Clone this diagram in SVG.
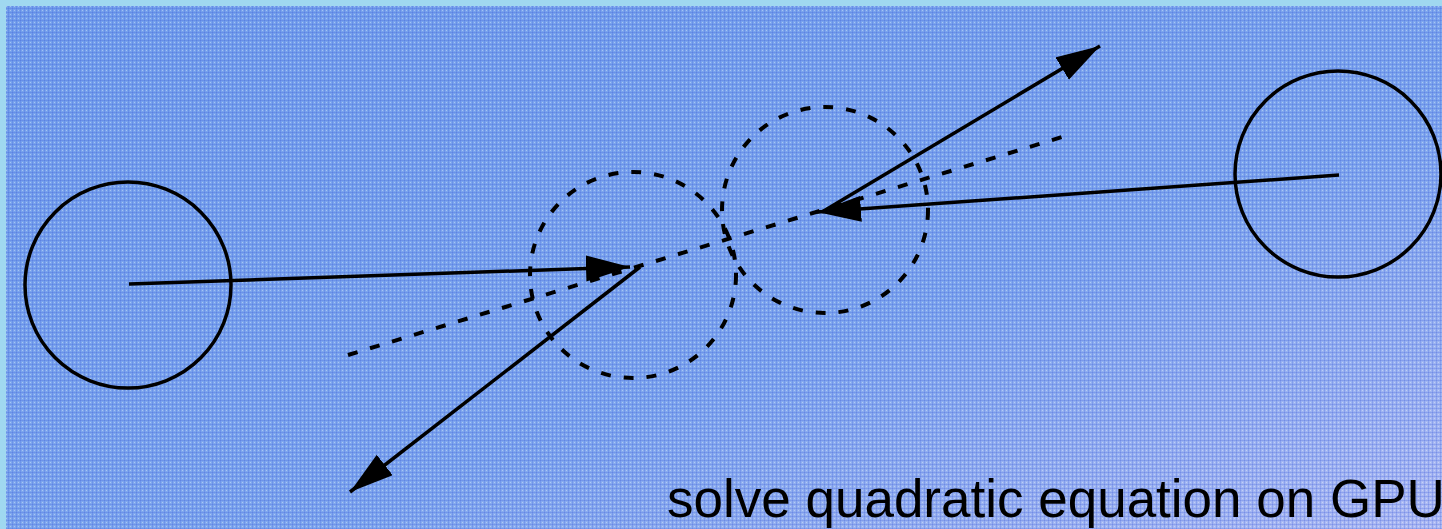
<svg xmlns="http://www.w3.org/2000/svg" width="1442" height="529" viewBox="0 0 1442 529">
<style>
.solid{fill:none;stroke:#000;stroke-width:3.5}
.dash{fill:none;stroke:#000;stroke-width:4;stroke-dasharray:10 13}
.arrow{fill:none;stroke:#000;stroke-width:3.5;marker-end:url(#head)}
.label{font-family:"Liberation Sans",Arial,sans-serif;font-size:53px;fill:#000}
</style>
<defs>
<linearGradient id="bg" x1="0" y1="0" x2="1" y2="1">
<stop offset="0" stop-color="#74a0ec"/>
<stop offset="0.6" stop-color="#80a8ee"/>
<stop offset="1" stop-color="#b0bcf4"/>
</linearGradient>
<pattern id="tex" width="4" height="4" patternUnits="userSpaceOnUse">
<rect x="0" y="0" width="4" height="1" fill="#3452d6" opacity="0.22"/>
<rect x="0" y="0" width="1" height="4" fill="#3452d6" opacity="0.22"/>
<rect x="2" y="2" width="1" height="1" fill="#ffffff" opacity="0.35"/>
</pattern>
<marker id="head" markerUnits="userSpaceOnUse" markerWidth="46" markerHeight="28" refX="44" refY="13" orient="auto">
<path d="M0,0 L44,13 L0,26 Z" fill="#000"/>
</marker>
</defs>
<rect x="0" y="0" width="1442" height="529" fill="#a0d8f0"/>
<rect x="6" y="6" width="1436" height="523" fill="url(#bg)"/>
<rect x="6" y="6" width="1436" height="523" fill="url(#tex)"/>
<g id="ball-left"><circle class="solid" cx="128" cy="285" r="103"/></g>
<g id="ball-right"><circle class="solid" cx="1338" cy="174" r="103"/></g>
<g id="ball-left-contact"><circle class="dash" cx="633" cy="275" r="103"/></g>
<g id="ball-right-contact"><circle class="dash" cx="825" cy="210" r="103"/></g>
<g id="connectors">
<line class="dash" x1="348" y1="355" x2="1062" y2="137" stroke-dasharray="11 13"/>
<line class="arrow" x1="129" y1="284" x2="630" y2="267"/>
<line class="arrow" x1="640" y1="267" x2="350" y2="492"/>
<line class="arrow" x1="1339" y1="175" x2="817" y2="212"/>
<line class="arrow" x1="822" y1="212" x2="1100" y2="46"/>
</g>
<text class="label" x="667" y="517">solve quadratic equation on GPU</text>
</svg>
